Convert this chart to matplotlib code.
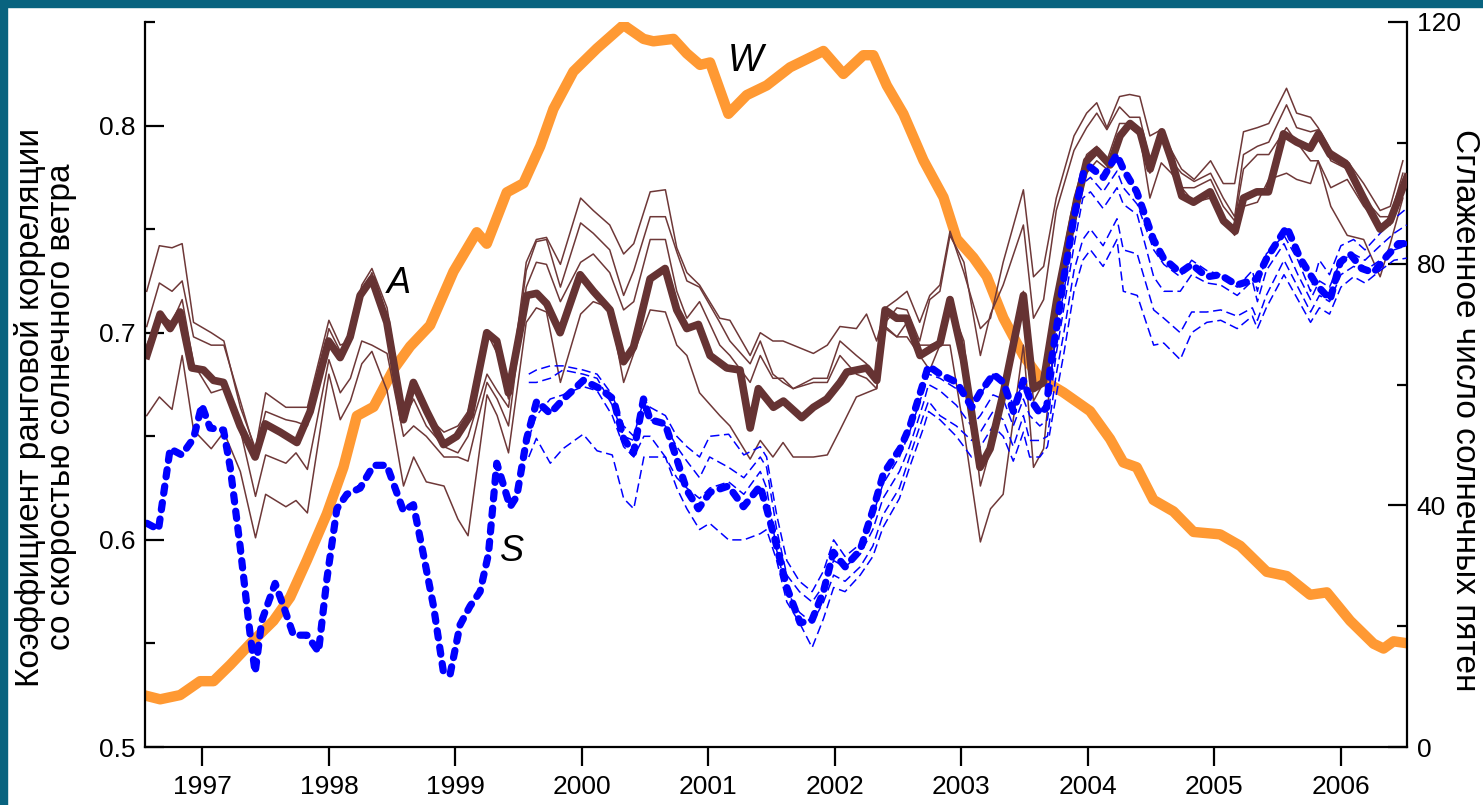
import matplotlib
matplotlib.use("Agg")
import matplotlib.pyplot as plt
from matplotlib.ticker import FixedLocator, FormatStrFormatter
from matplotlib.patches import Rectangle

plt.rcParams['font.family'] = ['Liberation Sans', 'DejaVu Sans']

# --- smoothed sunspot number W (right axis) ---
w_year = [1996.534, 1996.666, 1996.824, 1996.982, 1997.088, 1997.22, 1997.378, 1997.562, 1997.694,
          1997.826, 1997.984, 1998.115, 1998.221, 1998.353, 1998.511, 1998.642, 1998.80, 1998.985,
          1999.169, 1999.248, 1999.406, 1999.538, 1999.670, 1999.775, 1999.933, 2000.118, 2000.329,
          2000.487, 2000.565, 2000.724, 2000.829, 2000.934, 2001.013, 2001.158, 2001.303, 2001.461,
          2001.646, 2001.909, 2002.067, 2002.225, 2002.304, 2002.41, 2002.541, 2002.70, 2002.858,
          2002.963, 2003.095, 2003.20, 2003.332, 2003.49, 2003.622, 2003.806, 2004.017, 2004.175,
          2004.28, 2004.386, 2004.518, 2004.676, 2004.835, 2005.045, 2005.204, 2005.414, 2005.572,
          2005.757, 2005.889, 2006.073, 2006.258, 2006.337, 2006.416, 2006.548]
w_val = [8.6, 7.9, 8.6, 10.9, 10.9, 13.6, 17.1, 20.9, 24.8, 30.9, 38.6, 46.3, 54.8, 56.3, 62.5, 66.3,
         69.8, 78.7, 85.2, 83.3, 91.8, 93.3, 99.4, 105.6, 111.8, 115.6, 119.5, 117.2, 116.8, 117.2,
         114.8, 112.9, 113.3, 104.8, 107.9, 109.5, 112.5, 115.2, 111.4, 114.5, 114.5, 109.5, 104.8,
         97.1, 91.0, 84.1, 81.0, 77.9, 71.0, 64.8, 61.0, 58.7, 55.6, 51.0, 47.1, 46.3, 40.9, 39.0,
         35.6, 35.2, 33.3, 29.0, 28.3, 25.2, 25.6, 20.9, 17.1, 16.3, 17.5, 17.1]

# --- A: rank correlation, thick curve ---
a_year = [1996.561, 1996.666, 1996.745, 1996.824, 1996.916, 1997.009, 1997.088, 1997.167, 1997.298,
          1997.417, 1997.496, 1997.615, 1997.747, 1997.852, 1997.997, 1998.089, 1998.168, 1998.247,
          1998.339, 1998.458, 1998.589, 1998.668, 1998.774, 1998.906, 1999.011, 1999.116, 1999.248,
          1999.327, 1999.419, 1999.564, 1999.643, 1999.722, 1999.828, 1999.986, 2000.091, 2000.223,
          2000.329, 2000.408, 2000.539, 2000.658, 2000.75, 2000.829, 2000.921, 2001.013, 2001.145,
          2001.25, 2001.33, 2001.395, 2001.514, 2001.593, 2001.738, 2001.83, 2001.936, 2002.041,
          2002.094, 2002.252, 2002.331, 2002.397, 2002.489, 2002.568, 2002.673, 2002.752, 2002.831,
          2002.91, 2003.016, 2003.147, 2003.227, 2003.332, 2003.49, 2003.569, 2003.648, 2003.754,
          2003.885, 2003.991, 2004.07, 2004.175, 2004.254, 2004.333, 2004.412, 2004.492, 2004.584,
          2004.663, 2004.742, 2004.835, 2004.966, 2005.072, 2005.164, 2005.23, 2005.335, 2005.427,
          2005.546, 2005.651, 2005.757, 2005.822, 2005.915, 2006.047, 2006.179, 2006.31, 2006.389,
          2006.521]
a_val = [.689, .709, .702, .710, .683, .682, .677, .676, .655, .640, .656, .652, .647, .662, .696,
         .688, .698, .718, .726, .705, .658, .676, .662, .646, .650, .660, .700, .696, .671, .718,
         .719, .714, .700, .728, .720, .711, .686, .693, .726, .731, .711, .702, .704, .689, .683,
         .682, .654, .673, .664, .667, .659, .664, .668, .676, .681, .683, .677, .711, .707, .707,
         .689, .692, .695, .716, .687, .635, .644, .671, .718, .673, .676, .716, .756, .783, .788,
         .781, .795, .801, .797, .779, .797, .783, .766, .763, .768, .754, .749, .765, .768, .768,
         .796, .792, .789, .796, .786, .781, .765, .750, .754, .775]

# --- A: thin curves (four variants) ---
ta_year = [1996.56, 1996.66, 1996.76, 1996.84, 1996.93, 1997.07, 1997.17, 1997.30, 1997.42, 1997.50,
           1997.66, 1997.74, 1997.83, 1998.00, 1998.09, 1998.17, 1998.26, 1998.34, 1998.46, 1998.59,
           1998.67, 1998.77, 1998.91, 1999.02, 1999.10, 1999.25, 1999.33, 1999.42, 1999.56, 1999.64,
           1999.72, 1999.83, 1999.99, 2000.09, 2000.22, 2000.33, 2000.41, 2000.54, 2000.66, 2000.75,
           2000.83, 2000.93, 2001.09, 2001.17, 2001.33, 2001.41, 2001.51, 2001.59, 2001.67, 2001.83,
           2001.94, 2002.04, 2002.17, 2002.25, 2002.33, 2002.40, 2002.49, 2002.57, 2002.67, 2002.75,
           2002.83, 2002.91, 2003.02, 2003.15, 2003.23, 2003.33, 2003.49, 2003.57, 2003.65, 2003.75,
           2003.89, 2003.99, 2004.07, 2004.15, 2004.25, 2004.33, 2004.41, 2004.49, 2004.58, 2004.66,
           2004.74, 2004.84, 2004.97, 2005.07, 2005.16, 2005.23, 2005.34, 2005.43, 2005.57, 2005.65,
           2005.76, 2005.82, 2005.92, 2006.05, 2006.18, 2006.31, 2006.39, 2006.49]
ta1 = [.720, .742, .741, .743, .705, .700, .696, .664, .644, .671, .664, .664, .664, .706, .694, .696,
       .723, .731, .712, .662, .675, .660, .652, .655, .662, .700, .690, .668, .734, .745, .746, .733,
       .765, .759, .752, .738, .743, .768, .769, .741, .729, .723, .707, .706, .689, .700, .696, .696,
       .694, .690, .694, .703, .702, .709, .696, .712, .716, .720, .705, .718, .723, .749, .729, .702,
       .707, .734, .769, .727, .732, .765, .795, .806, .811, .799, .814, .815, .814, .795, .798, .788,
       .779, .774, .783, .772, .772, .797, .799, .801, .818, .806, .804, .799, .788, .783, .772, .759,
       .761, .783]
ta2 = [.703, .724, .720, .725, .698, .694, .694, .667, .642, .662, .658, .657, .655, .702, .691, .698,
       .718, .729, .706, .658, .668, .655, .645, .642, .650, .680, .672, .664, .730, .744, .745, .722,
       .753, .748, .740, .718, .730, .756, .756, .739, .725, .722, .705, .696, .685, .696, .680, .676,
       .673, .678, .678, .696, .689, .685, .678, .705, .712, .711, .696, .716, .720, .747, .734, .689,
       .709, .723, .752, .707, .716, .759, .788, .799, .806, .798, .809, .804, .804, .783, .797, .783,
       .777, .773, .777, .765, .756, .786, .790, .792, .810, .799, .797, .798, .783, .779, .765, .756,
       .756, .777]
ta3 = [.694, .709, .705, .716, .685, .671, .673, .653, .621, .641, .637, .642, .634, .687, .671, .678,
       .696, .694, .690, .650, .655, .650, .640, .640, .638, .676, .668, .655, .722, .734, .733, .715,
       .734, .738, .729, .711, .715, .745, .745, .720, .707, .715, .694, .689, .676, .689, .678, .678,
       .673, .676, .676, .689, .680, .678, .673, .703, .698, .705, .694, .694, .696, .714, .696, .626,
       .644, .671, .720, .667, .676, .720, .765, .786, .790, .783, .801, .801, .797, .777, .795, .781,
       .770, .770, .774, .761, .754, .779, .786, .786, .799, .792, .783, .783, .770, .774, .761, .752,
       .752, .774]
ta4 = [.660, .669, .663, .689, .653, .644, .652, .633, .601, .622, .616, .619, .613, .680, .658, .667,
       .685, .691, .672, .626, .640, .628, .626, .610, .602, .670, .660, .642, .705, .712, .710, .676,
       .709, .715, .712, .676, .690, .711, .710, .694, .689, .671, .660, .655, .639, .648, .640, .647,
       .640, .640, .641, .653, .669, .671, .673, .702, .698, .698, .689, .682, .694, .694, .653, .599,
       .615, .622, .694, .635, .644, .707, .754, .777, .783, .779, .795, .799, .795, .765, .782, .777,
       .770, .763, .765, .754, .747, .761, .763, .774, .777, .774, .772, .783, .761, .747, .745, .727,
       .743, .765]

# --- S: rank correlation, thick dashed curve ---
s_year = [1996.561, 1996.653, 1996.745, 1996.837, 1996.93, 1996.995, 1997.061, 1997.167, 1997.22,
          1997.298, 1997.378, 1997.417, 1997.47, 1997.575, 1997.641, 1997.72, 1997.826, 1997.918,
          1997.984, 1998.063, 1998.142, 1998.247, 1998.353, 1998.458, 1998.589, 1998.668, 1998.747,
          1998.827, 1998.906, 1998.958, 1999.037, 1999.116, 1999.195, 1999.261, 1999.327, 1999.433,
          1999.485, 1999.564, 1999.643, 1999.749, 1999.854, 2000.012, 2000.144, 2000.249, 2000.329,
          2000.408, 2000.487, 2000.539, 2000.658, 2000.75, 2000.829, 2000.921, 2001.013, 2001.158,
          2001.277, 2001.409, 2001.461, 2001.54, 2001.62, 2001.725, 2001.817, 2001.909, 2001.988,
          2002.081, 2002.199, 2002.304, 2002.384, 2002.515, 2002.594, 2002.7, 2002.739, 2002.831,
          2002.963, 2003.082, 2003.147, 2003.253, 2003.332, 2003.411, 2003.49, 2003.543, 2003.622,
          2003.675, 2003.7, 2003.754, 2003.806, 2003.885, 2003.964, 2004.017, 2004.122, 2004.228,
          2004.28, 2004.386, 2004.518, 2004.597, 2004.729, 2004.821, 2004.94, 2005.045, 2005.177,
          2005.335, 2005.414, 2005.572, 2005.677, 2005.809, 2005.915, 2005.994, 2006.073, 2006.165,
          2006.258, 2006.363, 2006.455, 2006.521]
s_val = [.608, .605, .644, .641, .649, .665, .654, .653, .635, .597, .554, .536, .561, .579, .568,
         .554, .554, .546, .581, .615, .622, .625, .636, .636, .614, .617, .593, .568, .536, .535,
         .559, .568, .575, .593, .637, .616, .621, .649, .667, .661, .668, .677, .673, .668, .649,
         .642, .668, .658, .656, .639, .624, .615, .623, .626, .616, .626, .615, .597, .577, .560,
         .561, .575, .594, .587, .595, .615, .632, .644, .655, .676, .684, .680, .676, .664, .671,
         .680, .676, .662, .677, .668, .661, .664, .682, .703, .725, .754, .777, .780, .775, .786,
         .779, .768, .745, .736, .729, .733, .727, .728, .723, .726, .736, .751, .736, .723, .716,
         .734, .738, .731, .729, .737, .743, .743]

# --- S: thin dashed curves (four variants) ---
ts_year = [1999.58, 1999.64, 1999.75, 1999.85, 2000.01, 2000.12, 2000.24, 2000.33, 2000.41, 2000.49,
           2000.54, 2000.66, 2000.75, 2000.83, 2000.93, 2001.01, 2001.16, 2001.28, 2001.41, 2001.46,
           2001.54, 2001.62, 2001.72, 2001.82, 2001.91, 2001.99, 2002.08, 2002.20, 2002.30, 2002.38,
           2002.51, 2002.59, 2002.70, 2002.74, 2002.83, 2002.96, 2003.08, 2003.15, 2003.25, 2003.33,
           2003.41, 2003.49, 2003.54, 2003.62, 2003.68, 2003.75, 2003.81, 2003.89, 2003.96, 2004.02,
           2004.12, 2004.23, 2004.28, 2004.39, 2004.52, 2004.60, 2004.73, 2004.82, 2004.94, 2005.05,
           2005.18, 2005.30, 2005.34, 2005.41, 2005.55, 2005.66, 2005.76, 2005.83, 2005.91, 2006.00,
           2006.10, 2006.19, 2006.31, 2006.42, 2006.52]
ts1 = [.680, .682, .684, .684, .682, .680, .670, .655, .650, .668, .664, .660, .650, .645, .640, .650,
       .651, .641, .645, .640, .612, .590, .580, .575, .585, .600, .592, .598, .612, .627, .640, .652,
       .672, .680, .678, .673, .668, .670, .680, .678, .665, .676, .668, .662, .665, .700, .720, .750,
       .772, .775, .768, .778, .770, .762, .740, .733, .727, .735, .730, .728, .722, .730, .720, .738,
       .747, .735, .720, .735, .728, .742, .745, .740, .748, .755, .760]
ts2 = [.676, .676, .678, .682, .680, .678, .665, .650, .648, .663, .658, .655, .645, .638, .630, .640,
       .635, .630, .640, .635, .605, .583, .575, .570, .578, .590, .587, .593, .605, .620, .633, .645,
       .666, .675, .672, .665, .655, .660, .670, .668, .655, .668, .660, .655, .658, .690, .712, .742,
       .765, .768, .760, .770, .762, .757, .727, .720, .720, .728, .724, .723, .718, .725, .715, .730,
       .743, .728, .716, .725, .722, .735, .738, .735, .742, .748, .752]
ts3 = [.649, .660, .668, .670, .674, .672, .660, .645, .640, .650, .650, .640, .630, .625, .620, .625,
       .628, .622, .633, .625, .595, .575, .565, .560, .570, .583, .580, .587, .597, .612, .625, .640,
       .660, .667, .660, .655, .648, .652, .662, .658, .645, .660, .648, .648, .650, .680, .700, .730,
       .745, .750, .742, .755, .740, .738, .711, .707, .700, .710, .710, .711, .708, .712, .706, .718,
       .735, .722, .710, .718, .715, .728, .732, .730, .735, .740, .742]
ts4 = [.640, .649, .637, .644, .651, .643, .641, .620, .615, .640, .640, .640, .625, .615, .605, .608,
       .600, .600, .603, .605, .590, .570, .560, .548, .562, .577, .575, .583, .592, .606, .620, .635,
       .654, .662, .658, .650, .640, .645, .655, .650, .638, .652, .640, .640, .645, .670, .690, .720,
       .735, .740, .732, .745, .720, .718, .694, .695, .687, .700, .705, .706, .702, .708, .702, .712,
       .728, .716, .705, .712, .709, .722, .727, .724, .730, .735, .736]

year_ticks = list(range(1997, 2007))

brown = '#663333'
blue = '#0000ff'
orange = '#ff9933'
border = '#08637f'

fig = plt.figure(figsize=(14.83, 8.05), dpi=100)
fig.patches.append(Rectangle((0, 0), 7 / 1483, 1, transform=fig.transFigure, color=border, zorder=-1))
fig.patches.append(Rectangle((0, 1 - 7 / 805), 1, 7 / 805, transform=fig.transFigure, color=border, zorder=-1))

ax = fig.add_axes([0.098, 0.072, 0.8508, 0.9007])
ax2 = ax.twinx()
ax.set_zorder(ax2.get_zorder() + 1)
ax.patch.set_visible(False)

# W sits behind the correlation curves
ax2.plot(w_year, w_val, color=orange, lw=7.5, solid_capstyle='butt')

for t in (ta1, ta2, ta3, ta4):
    ax.plot(ta_year, t, color='#6e3838', lw=1.1)
for t in (ts1, ts2, ts3, ts4):
    ax.plot(ts_year, t, color=blue, lw=1.1, dashes=(6, 3))
ax.plot(a_year, a_val, color=brown, lw=5.5)
ax.plot(s_year, s_val, color=blue, lw=5.2, dashes=(1.0, 1.3), dash_capstyle='round')

ax.set_xlim(1996.549, 2006.523)
ax.set_ylim(0.5, 0.85)
ax2.set_ylim(0, 120)

ax.xaxis.set_major_locator(FixedLocator(year_ticks))
ax.set_xticklabels([str(y) for y in year_ticks])
ax.yaxis.set_major_locator(FixedLocator([0.5, 0.6, 0.7, 0.8]))
ax.yaxis.set_minor_locator(FixedLocator([0.55, 0.65, 0.75, 0.85]))
ax.yaxis.set_major_formatter(FormatStrFormatter('%.1f'))
ax2.yaxis.set_major_locator(FixedLocator([0, 40, 80, 120]))
ax2.yaxis.set_minor_locator(FixedLocator([20, 60, 100]))

for a in (ax, ax2):
    a.spines['top'].set_visible(False)
    for s in a.spines.values():
        s.set_linewidth(1.6)
ax.spines['right'].set_visible(False)
ax2.spines['left'].set_visible(False)
ax2.spines['bottom'].set_visible(False)

ax.tick_params(axis='x', direction='out', length=14, width=1.6, labelsize=19, pad=6)
ax.tick_params(axis='y', which='major', direction='in', length=14, width=1.6, labelsize=19, pad=7)
ax.tick_params(axis='y', which='minor', direction='in', length=7, width=1.6)
ax2.tick_params(axis='y', which='major', direction='in', length=14, width=1.6, labelsize=19, pad=7)
ax2.tick_params(axis='y', which='minor', direction='in', length=7, width=1.6)

fig.text(30 / 1483, 1 - 407 / 805, 'Коэффициент ранговой корреляции', rotation=90,
         ha='center', va='center', fontsize=24)
fig.text(62 / 1483, 1 - 407 / 805, 'со скоростью солнечного ветра', rotation=90,
         ha='center', va='center', fontsize=24)
fig.text(1464 / 1483, 1 - 410 / 805, 'Сглаженное число солнечных пятен', rotation=270,
         ha='center', va='center', fontsize=24)

ax2.text(2001.29, 113.5, 'W', style='italic', fontsize=27, ha='center', va='center')
ax.text(1998.55, 0.7237, 'A', style='italic', fontsize=26, ha='center', va='center')
ax.text(1999.45, 0.5945, 'S', style='italic', fontsize=26, ha='center', va='center')

fig.savefig('out.png', dpi=100)
